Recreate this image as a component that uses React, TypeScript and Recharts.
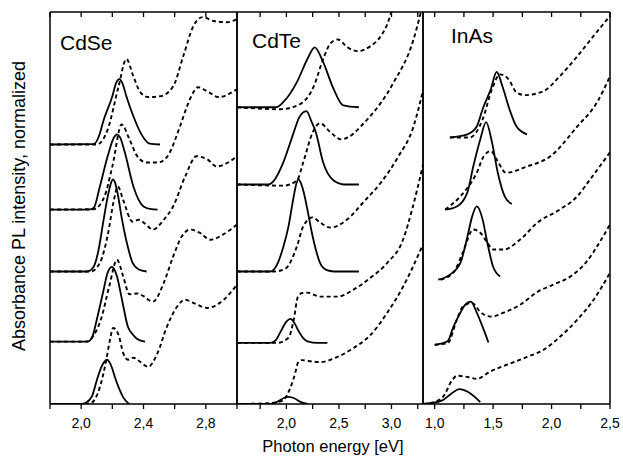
import React from "react";
import { LineChart, Line, XAxis, YAxis } from "recharts";

type Pt = [number, number];

// energy (eV), normalized intensity (stacked offsets, 0..10)

// CdSe
const cdsePl1: Pt[] = [[1.8, 0], [2.0, 0], [2.03, 0.03], [2.07, 0.2], [2.1, 0.6], [2.13, 0.95], [2.15, 1.08], [2.165, 1.13], [2.18, 1.08], [2.2, 0.9], [2.215, 0.7], [2.245, 0.38], [2.27, 0.17], [2.3, 0.03], [2.31, 0]];
const cdseAbs1: Pt[] = [[1.8, 0], [2.0, 0], [2.06, 0.02], [2.12, 0.43], [2.16, 1.1], [2.185, 1.64], [2.205, 1.94], [2.24, 1.76], [2.27, 1.3], [2.3, 1.13], [2.335, 1.18], [2.38, 1.07], [2.43, 0.95], [2.49, 1.3], [2.55, 1.97], [2.615, 2.48], [2.665, 2.66], [2.72, 2.58], [2.81, 2.45], [2.89, 2.58], [3.0, 3.04]];
const cdsePl2: Pt[] = [[1.8, 1.59], [2.04, 1.59], [2.07, 1.7], [2.1, 2.15], [2.14, 2.84], [2.17, 3.35], [2.185, 3.47], [2.198, 3.5], [2.212, 3.44], [2.23, 3.25], [2.262, 2.66], [2.3, 1.97], [2.33, 1.78], [2.36, 1.66], [2.41, 1.59]];
const cdseAbs2: Pt[] = [[1.8, 1.59], [2.03, 1.59], [2.08, 1.75], [2.13, 2.2], [2.18, 3.0], [2.23, 3.68], [2.27, 3.25], [2.31, 2.8], [2.36, 2.82], [2.4, 2.75], [2.46, 2.61], [2.53, 3.09], [2.59, 3.76], [2.645, 4.27], [2.7, 4.45], [2.76, 4.37], [2.83, 4.19], [2.91, 4.32], [3.0, 4.58]];
const cdsePl3: Pt[] = [[1.8, 3.38], [2.04, 3.38], [2.08, 3.5], [2.11, 3.9], [2.14, 4.6], [2.166, 5.2], [2.19, 5.62], [2.204, 5.73], [2.218, 5.64], [2.235, 5.35], [2.262, 4.71], [2.3, 4.0], [2.33, 3.6], [2.37, 3.43], [2.42, 3.38]];
const cdseAbs3: Pt[] = [[1.8, 3.38], [2.06, 3.38], [2.12, 3.6], [2.17, 4.3], [2.21, 5.2], [2.235, 5.55], [2.27, 5.2], [2.33, 4.65], [2.37, 4.7], [2.41, 4.6], [2.46, 4.45], [2.53, 4.7], [2.59, 5.04], [2.667, 5.8], [2.74, 6.32], [2.81, 6.24], [2.87, 6.06], [2.955, 6.19], [3.0, 6.32]];
const cdsePl4: Pt[] = [[1.8, 4.96], [2.05, 4.96], [2.08, 5.0], [2.12, 5.55], [2.17, 6.32], [2.21, 6.8], [2.23, 6.88], [2.25, 6.8], [2.28, 6.42], [2.335, 5.55], [2.4, 5.04], [2.45, 4.97], [2.49, 4.96]];
const cdseAbs4: Pt[] = [[1.8, 4.96], [2.08, 4.97], [2.15, 5.3], [2.2, 6.06], [2.26, 7.13], [2.31, 6.75], [2.36, 6.32], [2.42, 6.16], [2.49, 6.16], [2.55, 6.3], [2.634, 7.08], [2.68, 7.6], [2.72, 7.95], [2.75, 8.08], [2.82, 7.95], [2.88, 7.83], [3.0, 8.03]];
const cdsePl5: Pt[] = [[1.8, 6.62], [2.08, 6.63], [2.12, 6.9], [2.14, 7.19], [2.2, 7.85], [2.225, 8.2], [2.245, 8.29], [2.265, 8.18], [2.29, 7.85], [2.335, 7.34], [2.38, 6.93], [2.44, 6.64], [2.506, 6.62]];
const cdseAbs5: Pt[] = [[1.8, 6.62], [2.1, 6.62], [2.17, 7.0], [2.24, 8.1], [2.29, 8.8], [2.335, 8.36], [2.38, 7.95], [2.43, 7.83], [2.506, 7.85], [2.59, 8.1], [2.655, 8.87], [2.72, 9.64], [2.78, 9.87], [2.85, 9.77], [2.935, 9.74], [3.0, 9.82]];

// CdTe
const cdtePl1: Pt[] = [[1.53, 0], [1.85, 0], [1.93, 0.08], [1.98, 0.16], [2.02, 0.18], [2.08, 0.14], [2.13, 0.06], [2.2, 0]];
const cdteAbs1: Pt[] = [[1.53, 0], [1.83, 0.02], [1.96, 0.08], [2.04, 0.43], [2.085, 0.8], [2.11, 1.05], [2.15, 1.12], [2.2, 1.1], [2.32, 1.07], [2.485, 1.2], [2.64, 1.43], [2.8, 1.76], [2.96, 2.33], [3.11, 2.99], [3.3, 4.07]];
const cdtePl2: Pt[] = [[1.53, 1.56], [1.85, 1.56], [1.9, 1.63], [1.94, 1.82], [2.0, 2.1], [2.04, 2.17], [2.08, 2.05], [2.11, 1.89], [2.16, 1.68], [2.2, 1.6], [2.3, 1.56], [2.39, 1.56]];
const cdteAbs2: Pt[] = [[1.53, 1.56], [1.91, 1.56], [2.02, 1.69], [2.07, 2.15], [2.11, 2.74], [2.15, 2.83], [2.2, 2.84], [2.32, 2.74], [2.49, 2.74], [2.64, 2.92], [2.8, 3.22], [2.96, 3.6], [3.11, 4.19], [3.2, 5.0], [3.3, 6.1]];
const cdtePl3: Pt[] = [[1.53, 3.38], [1.85, 3.38], [1.9, 3.5], [1.97, 4.0], [2.02, 4.53], [2.07, 5.3], [2.095, 5.62], [2.115, 5.73], [2.14, 5.62], [2.16, 5.45], [2.2, 4.96], [2.24, 4.4], [2.28, 3.94], [2.32, 3.6], [2.38, 3.42], [2.45, 3.38], [2.69, 3.38]];
const cdteAbs3: Pt[] = [[1.53, 3.38], [1.88, 3.38], [1.99, 3.45], [2.1, 4.02], [2.16, 4.53], [2.25, 4.76], [2.32, 4.63], [2.42, 4.5], [2.58, 4.71], [2.73, 5.14], [2.9, 5.65], [3.06, 6.29], [3.21, 7.08], [3.3, 8.0]];
const cdtePl4: Pt[] = [[1.53, 5.6], [1.83, 5.6], [1.876, 5.68], [1.97, 6.16], [2.07, 6.93], [2.12, 7.3], [2.19, 7.47], [2.24, 7.2], [2.28, 6.93], [2.35, 6.16], [2.45, 5.7], [2.55, 5.6], [2.69, 5.6]];
const cdteAbs4: Pt[] = [[1.53, 5.6], [1.97, 5.57], [2.1, 5.7], [2.16, 6.16], [2.25, 6.93], [2.32, 7.16], [2.42, 6.93], [2.52, 6.75], [2.77, 7.26], [3.02, 8.2], [3.21, 9.3], [3.28, 10]];
const cdtePl5: Pt[] = [[1.53, 7.57], [1.9, 7.57], [1.97, 7.7], [2.1, 8.21], [2.2, 8.8], [2.27, 9.1], [2.35, 8.72], [2.45, 8.03], [2.54, 7.62], [2.69, 7.57]];
const cdteAbs5: Pt[] = [[1.53, 7.57], [1.94, 7.52], [2.13, 7.65], [2.26, 8.1], [2.35, 8.8], [2.42, 9.2], [2.49, 9.3], [2.58, 9.1], [2.68, 9.0], [2.8, 9.13], [2.9, 9.39], [2.96, 9.69], [3.0, 10.0]];

// InAs
const inasPl1: Pt[] = [[0.9, 0], [0.96, 0.02], [1.07, 0.1], [1.15, 0.28], [1.21, 0.38], [1.29, 0.3], [1.39, 0.05]];
const inasAbs1: Pt[] = [[0.9, 0], [0.96, 0.02], [1.07, 0.18], [1.15, 0.61], [1.19, 0.72], [1.28, 0.69], [1.36, 0.64], [1.47, 0.82], [1.66, 1.05], [1.79, 1.2], [1.93, 1.38], [2.07, 1.71], [2.22, 2.15], [2.36, 2.66], [2.5, 3.35]];
const inasPl2: Pt[] = [[1.0, 1.51], [1.11, 1.6], [1.16, 1.97], [1.22, 2.33], [1.26, 2.53], [1.31, 2.61], [1.36, 2.33], [1.42, 1.89], [1.46, 1.57]];
const inasAbs2: Pt[] = [[1.0, 1.51], [1.11, 1.55], [1.19, 2.15], [1.24, 2.48], [1.32, 2.58], [1.39, 2.35], [1.48, 2.23], [1.59, 2.33], [1.73, 2.53], [1.88, 2.86], [2.01, 3.04], [2.16, 3.25], [2.3, 3.63], [2.41, 4.12], [2.5, 4.58]];
const inasPl3: Pt[] = [[1.03, 3.17], [1.13, 3.3], [1.22, 3.6], [1.28, 4.27], [1.32, 4.78], [1.36, 5.04], [1.41, 4.71], [1.45, 4.12], [1.5, 3.5], [1.56, 3.25]];
const inasAbs3: Pt[] = [[1.05, 3.17], [1.16, 3.35], [1.24, 3.86], [1.33, 4.45], [1.39, 4.37], [1.45, 4.12], [1.5, 3.94], [1.59, 3.94], [1.73, 4.19], [1.88, 4.63], [2.07, 4.96], [2.22, 5.3], [2.33, 5.73], [2.5, 6.42]];
const inasPl4: Pt[] = [[1.09, 4.96], [1.19, 5.04], [1.28, 5.4], [1.33, 6.06], [1.39, 6.75], [1.44, 7.19], [1.49, 6.68], [1.54, 5.9], [1.6, 5.29], [1.66, 5.1]];
const inasAbs4: Pt[] = [[1.09, 4.96], [1.22, 5.3], [1.36, 5.9], [1.42, 6.32], [1.48, 6.45], [1.53, 6.24], [1.61, 5.9], [1.79, 6.06], [1.99, 6.32], [2.22, 7.08], [2.39, 7.7], [2.5, 8.36]];
const inasPl5: Pt[] = [[1.13, 6.8], [1.28, 6.88], [1.36, 7.08], [1.41, 7.52], [1.48, 8.03], [1.53, 8.47], [1.58, 8.1], [1.64, 7.52], [1.7, 7.08], [1.79, 6.88]];
const inasAbs5: Pt[] = [[1.13, 6.8], [1.3, 6.8], [1.41, 7.26], [1.49, 8.03], [1.56, 8.41], [1.63, 8.29], [1.7, 7.95], [1.77, 7.88], [1.93, 7.98], [2.07, 8.36], [2.22, 8.87], [2.36, 9.39], [2.5, 9.9]];

// axis ticks
const cdseTicks = [1.8, 2.0, 2.2, 2.4, 2.6, 2.8, 3.0];
const cdseLabelled = [2.0, 2.4, 2.8];
const cdseLabels = ["2,0", "2,4", "2,8"];
const cdteTicks = [1.75, 2.0, 2.25, 2.5, 2.75, 3.0, 3.25];
const cdteLabelled = [2.0, 2.5, 3.0];
const cdteLabels = ["2,0", "2,5", "3,0"];
const inasTicks = [1.0, 1.25, 1.5, 1.75, 2.0, 2.25, 2.5];
const inasLabelled = [1.0, 1.5, 2.0, 2.5];
const inasLabels = ["1,0", "1,5", "2,0", "2,5"];

const toRows = (pts: Pt[]) => pts.map(([x, y]) => ({ x, y }));

const panels = [
  { name: "CdSe", left: 50, width: 187, domain: [1.8, 3.0], ticks: cdseTicks, labelled: cdseLabelled, labels: cdseLabels,
    pl: [cdsePl1, cdsePl2, cdsePl3, cdsePl4, cdsePl5], abs: [cdseAbs1, cdseAbs2, cdseAbs3, cdseAbs4, cdseAbs5], tx: 60, ty: 50 },
  { name: "CdTe", left: 237, width: 186, domain: [1.53, 3.3], ticks: cdteTicks, labelled: cdteLabelled, labels: cdteLabels,
    pl: [cdtePl1, cdtePl2, cdtePl3, cdtePl4, cdtePl5], abs: [cdteAbs1, cdteAbs2, cdteAbs3, cdteAbs4, cdteAbs5], tx: 252, ty: 48 },
  { name: "InAs", left: 423, width: 187, domain: [0.9, 2.5], ticks: inasTicks, labelled: inasLabelled, labels: inasLabels,
    pl: [inasPl1, inasPl2, inasPl3, inasPl4, inasPl5], abs: [inasAbs1, inasAbs2, inasAbs3, inasAbs4, inasAbs5], tx: 451, ty: 43 },
];

const FONT = "'Liberation Sans', Arial, Helvetica, sans-serif";
const PAD = 20;
const frame = { stroke: "#000", strokeWidth: 1.5 };

export default function App() {
  return (
    <div style={{ position: "absolute", left: 0, top: 0, width: 623, height: 457, background: "#fff", fontFamily: FONT }}>
      {panels.map((p) => {
        const fmt = (v: number) => {
          const i = p.labelled.findIndex((l) => Math.abs(l - v) < 1e-6);
          return i >= 0 ? p.labels[i] : "";
        };
        return (
          <div key={p.name} style={{ position: "absolute", left: p.left - PAD, top: 0 }}>
            <LineChart width={p.width + 2 * PAD} height={457} margin={{ top: 12, right: PAD - 1, bottom: 0, left: PAD - 1 }}>
              <XAxis xAxisId="b" dataKey="x" type="number" domain={p.domain} allowDataOverflow ticks={p.ticks}
                tickFormatter={fmt} interval={0} height={53} tickSize={5} tickMargin={9}
                axisLine={frame} tickLine={{ stroke: "#000", strokeWidth: 1.3 }} stroke="#000"
                tick={{ fill: "#000", fontSize: 14, fontFamily: FONT }} />
              <XAxis xAxisId="t" orientation="top" dataKey="x" type="number" domain={p.domain} allowDataOverflow ticks={p.ticks}
                tickFormatter={() => ""} interval={0} height={1} mirror tickSize={5} stroke="#000"
                axisLine={frame} tickLine={{ stroke: "#000", strokeWidth: 1.3 }} />
              <YAxis yAxisId="l" type="number" domain={[0, 10]} allowDataOverflow width={1} tick={false} tickLine={false}
                axisLine={frame} stroke="#000" />
              <YAxis yAxisId="r" orientation="right" type="number" domain={[0, 10]} allowDataOverflow width={1} tick={false} tickLine={false}
                axisLine={frame} stroke="#000" />
              {p.abs.map((s, i) => (
                <Line key={"a" + i} xAxisId="b" yAxisId="l" data={toRows(s)} dataKey="y" type="monotone" stroke="#000"
                  strokeWidth={1.9} strokeDasharray="4 3" dot={false} activeDot={false} isAnimationActive={false} />
              ))}
              {p.pl.map((s, i) => (
                <Line key={"p" + i} xAxisId="b" yAxisId="l" data={toRows(s)} dataKey="y" type="monotone" stroke="#000"
                  strokeWidth={1.8} dot={false} activeDot={false} isAnimationActive={false} />
              ))}
            </LineChart>
          </div>
        );
      })}
      <svg width={623} height={457} style={{ position: "absolute", left: 0, top: 0, pointerEvents: "none" }}>
        {panels.map((p) => (
          <text key={p.name} x={p.tx} y={p.ty} fontSize={21} fontFamily={FONT} fill="#000">{p.name}</text>
        ))}
        <text x={333} y={452} fontSize={16.5} fontFamily={FONT} textAnchor="middle" fill="#000">Photon energy [eV]</text>
        <text transform="translate(25,206) rotate(-90)" fontSize={18} fontFamily={FONT} textAnchor="middle" fill="#000">
          Absorbance PL intensity, normalized
        </text>
      </svg>
    </div>
  );
}
